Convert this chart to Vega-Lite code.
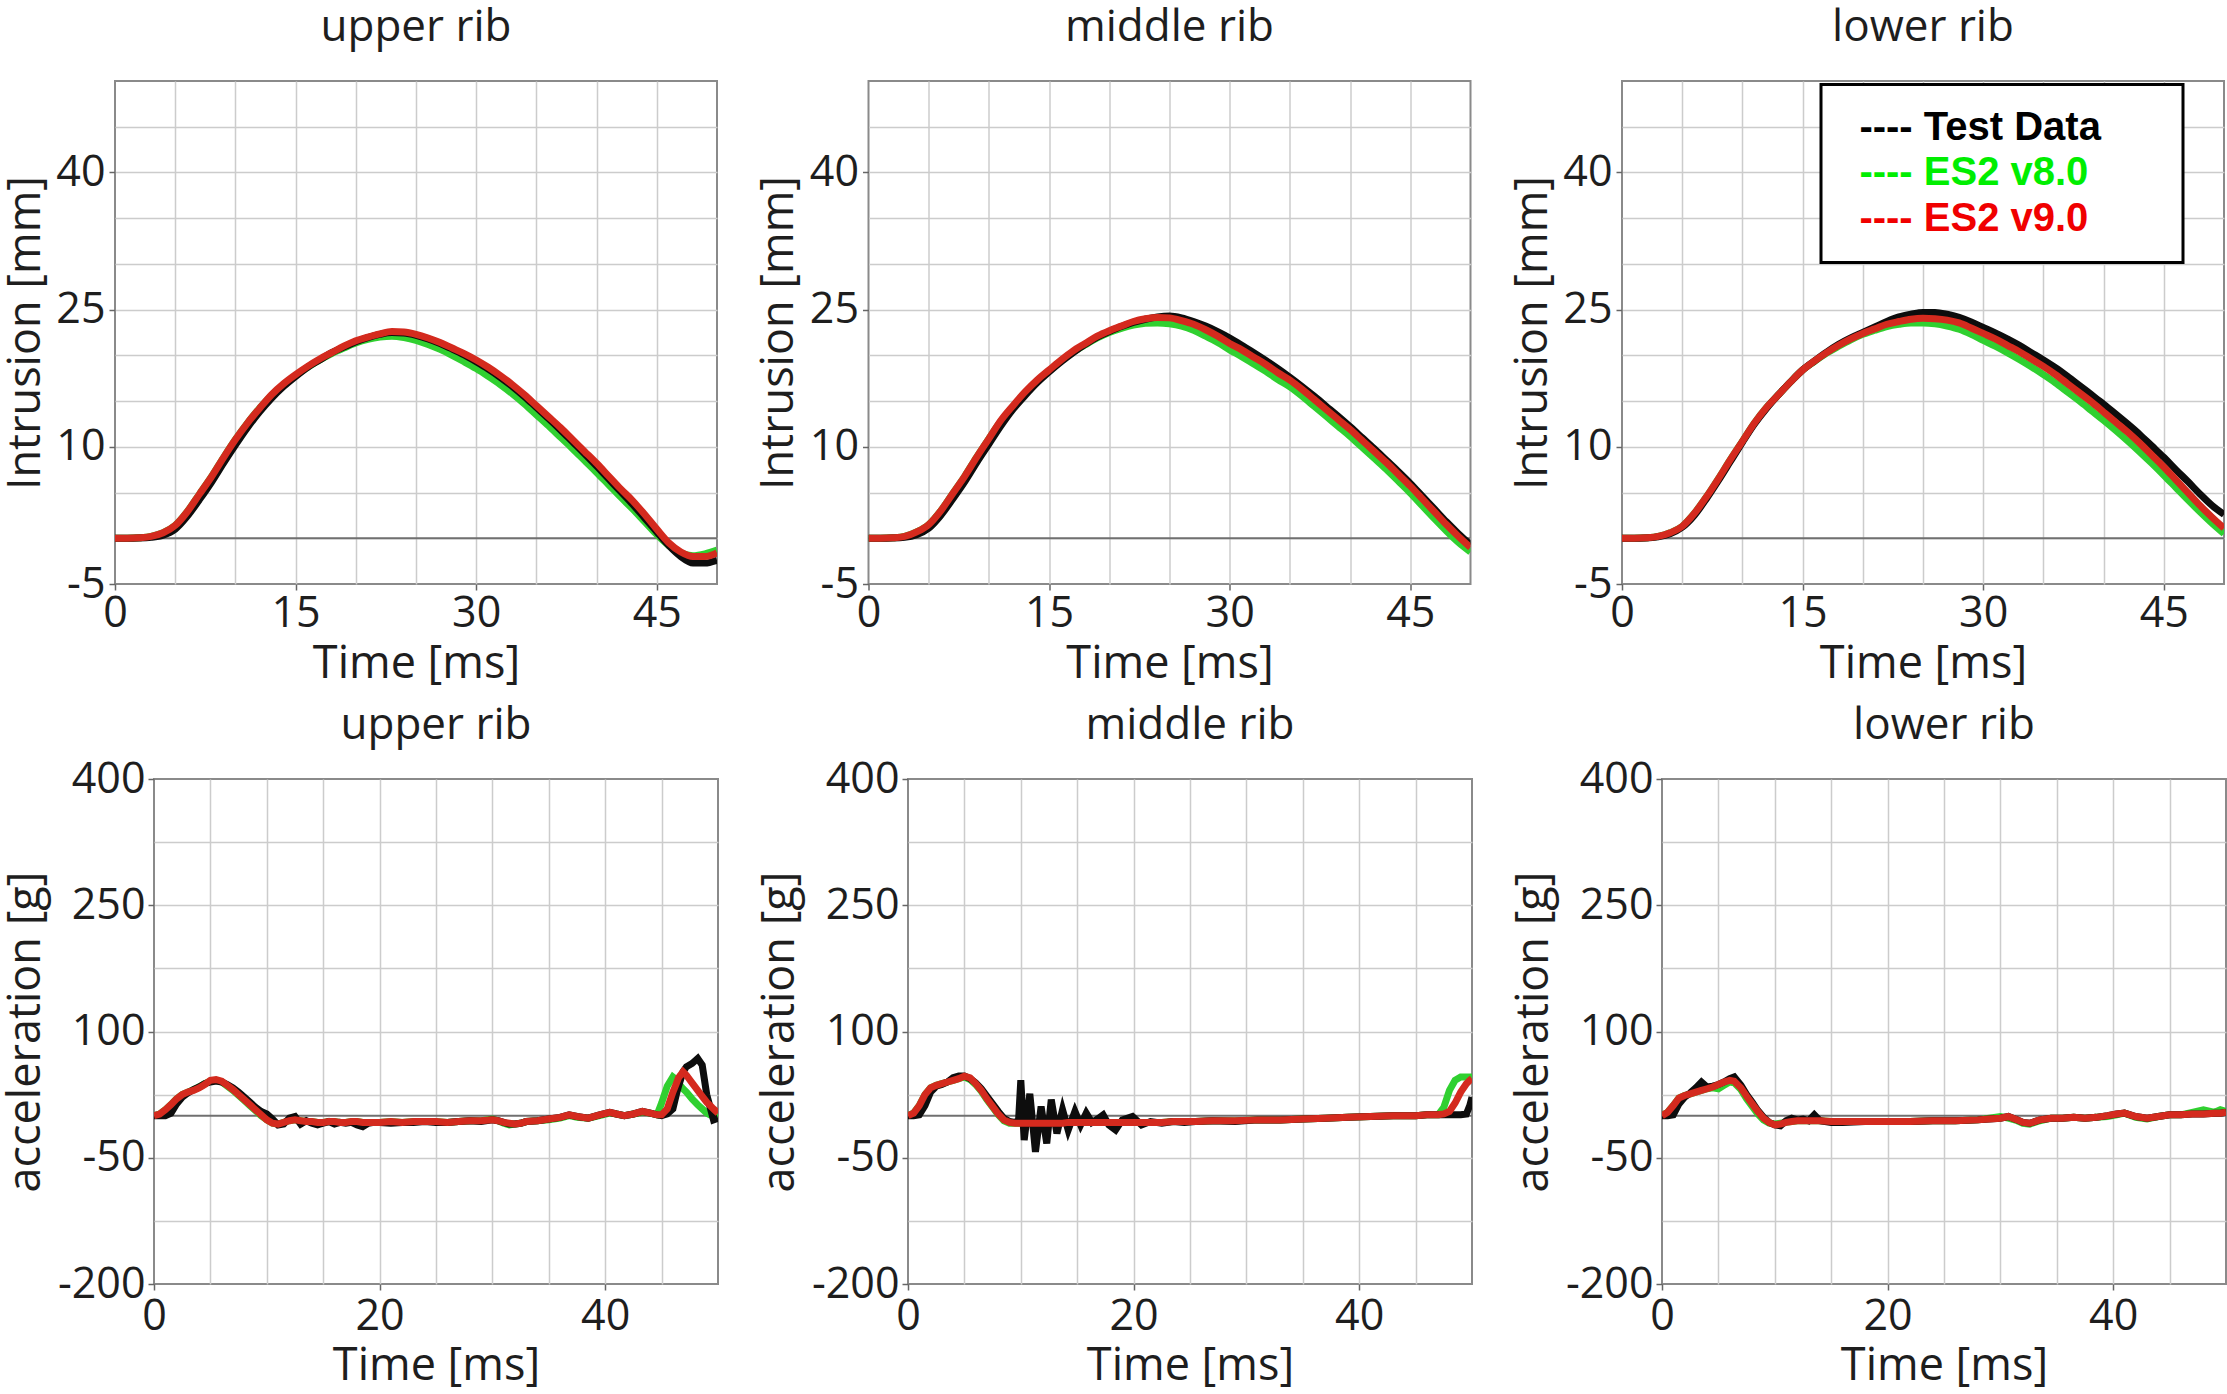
{
"$schema": "https://vega.github.io/schema/vega-lite/v6.json",
"padding": {"left": 0, "top": 4, "right": 0, "bottom": 0},
"background": "#ffffff",
"config": {
  "view": {"stroke": "#8a8a8a", "strokeWidth": 2},
  "font": "Open Sans",
  "axis": {"grid": true, "labelFont": "Open Sans", "labelFontSize": 43, "labelColor": "#1e1e1e", "titleFont": "Open Sans", "titleFontSize": 45, "titleFontWeight": "normal", "titleColor": "#1e1e1e", "domain": false, "tickColor": "#666666", "tickSize": 6, "tickWidth": 1.5, "labelFlush": false, "labelOverlap": false, "gridWidth": 1.5},
  "title": {"font": "Open Sans", "fontSize": 44, "fontWeight": "normal", "color": "#1e1e1e", "frame": "group", "anchor": "middle", "baseline": "alphabetic"}
},
"datasets": {
"iu": [
{"t":0,"T":0,"G":0,"R":0},{"t":1,"T":0,"G":0,"R":0},{"t":2,"T":0.02,"G":0.05,"R":0.05},{"t":3,"T":0.1,"G":0.2,"R":0.2},{"t":4,"T":0.35,"G":0.6,"R":0.6},{"t":5,"T":1.0,"G":1.4,"R":1.4},{"t":6,"T":2.4,"G":2.9,"R":2.9},{"t":7,"T":4.2,"G":4.8,"R":4.8},{"t":8,"T":6.1,"G":6.7,"R":6.7},{"t":9,"T":8.2,"G":8.8,"R":8.8},{"t":10,"T":10.2,"G":10.8,"R":10.8},{"t":11,"T":12.1,"G":12.6,"R":12.6},{"t":12,"T":13.8,"G":14.2,"R":14.2},{"t":13,"T":15.3,"G":15.6,"R":15.7},{"t":14,"T":16.6,"G":16.8,"R":16.9},{"t":15,"T":17.7,"G":17.8,"R":17.9},{"t":16,"T":18.7,"G":18.7,"R":18.8},{"t":17,"T":19.5,"G":19.5,"R":19.6},{"t":18,"T":20.3,"G":20.2,"R":20.3},{"t":19,"T":20.9,"G":20.8,"R":21.0},{"t":20,"T":21.5,"G":21.35,"R":21.6},{"t":21,"T":21.95,"G":21.75,"R":22.0},{"t":22,"T":22.3,"G":22.0,"R":22.35},{"t":23,"T":22.5,"G":22.1,"R":22.6},{"t":24,"T":22.45,"G":21.95,"R":22.55},{"t":25,"T":22.2,"G":21.65,"R":22.3},{"t":26,"T":21.8,"G":21.2,"R":21.9},{"t":27,"T":21.3,"G":20.65,"R":21.4},{"t":28,"T":20.7,"G":20.0,"R":20.8},{"t":29,"T":20.05,"G":19.3,"R":20.2},{"t":30,"T":19.3,"G":18.55,"R":19.5},{"t":31,"T":18.5,"G":17.7,"R":18.7},{"t":32,"T":17.6,"G":16.8,"R":17.8},{"t":33,"T":16.6,"G":15.8,"R":16.8},{"t":34,"T":15.5,"G":14.7,"R":15.7},{"t":35,"T":14.3,"G":13.5,"R":14.5},{"t":36,"T":13.1,"G":12.3,"R":13.3},{"t":37,"T":11.85,"G":11.05,"R":12.1},{"t":38,"T":10.55,"G":9.8,"R":10.8},{"t":39,"T":9.25,"G":8.5,"R":9.5},{"t":40,"T":7.9,"G":7.2,"R":8.2},{"t":41,"T":6.5,"G":5.85,"R":6.8},{"t":42,"T":5.1,"G":4.5,"R":5.4},{"t":43,"T":3.7,"G":3.2,"R":4.1},{"t":44,"T":2.2,"G":1.8,"R":2.6},{"t":45,"T":0.7,"G":0.4,"R":1.0},{"t":46,"T":-0.8,"G":-0.8,"R":-0.5},{"t":47,"T":-2.0,"G":-1.6,"R":-1.5},{"t":48,"T":-2.7,"G":-1.9,"R":-2.0},{"t":49,"T":-2.7,"G":-1.7,"R":-2.0},{"t":50,"T":-2.4,"G":-1.3,"R":-1.6}
],
"im": [
{"t":0,"T":0,"G":0,"R":0},{"t":1,"T":0,"G":0,"R":0},{"t":2,"T":0.02,"G":0.05,"R":0.05},{"t":3,"T":0.1,"G":0.2,"R":0.2},{"t":4,"T":0.4,"G":0.7,"R":0.7},{"t":5,"T":1.1,"G":1.5,"R":1.5},{"t":6,"T":2.5,"G":3.0,"R":3.0},{"t":7,"T":4.3,"G":4.9,"R":4.9},{"t":8,"T":6.2,"G":6.8,"R":6.8},{"t":9,"T":8.3,"G":8.9,"R":8.9},{"t":10,"T":10.3,"G":10.9,"R":10.9},{"t":11,"T":12.3,"G":12.8,"R":12.9},{"t":12,"T":14.1,"G":14.4,"R":14.5},{"t":13,"T":15.6,"G":15.9,"R":16.0},{"t":14,"T":17.0,"G":17.2,"R":17.3},{"t":15,"T":18.2,"G":18.3,"R":18.4},{"t":16,"T":19.3,"G":19.4,"R":19.5},{"t":17,"T":20.3,"G":20.35,"R":20.5},{"t":18,"T":21.2,"G":21.15,"R":21.3},{"t":19,"T":22.0,"G":21.9,"R":22.1},{"t":20,"T":22.6,"G":22.5,"R":22.7},{"t":21,"T":23.15,"G":22.95,"R":23.2},{"t":22,"T":23.6,"G":23.3,"R":23.7},{"t":23,"T":23.95,"G":23.5,"R":24.0},{"t":24,"T":24.2,"G":23.55,"R":24.15},{"t":25,"T":24.3,"G":23.45,"R":24.1},{"t":26,"T":24.1,"G":23.2,"R":23.8},{"t":27,"T":23.7,"G":22.75,"R":23.4},{"t":28,"T":23.2,"G":22.1,"R":22.8},{"t":29,"T":22.6,"G":21.4,"R":22.1},{"t":30,"T":21.9,"G":20.6,"R":21.3},{"t":31,"T":21.1,"G":19.85,"R":20.6},{"t":32,"T":20.3,"G":19.05,"R":19.8},{"t":33,"T":19.45,"G":18.25,"R":19.0},{"t":34,"T":18.55,"G":17.35,"R":18.1},{"t":35,"T":17.6,"G":16.55,"R":17.3},{"t":36,"T":16.6,"G":15.55,"R":16.3},{"t":37,"T":15.55,"G":14.45,"R":15.2},{"t":38,"T":14.45,"G":13.35,"R":14.1},{"t":39,"T":13.35,"G":12.25,"R":13.0},{"t":40,"T":12.2,"G":11.15,"R":11.9},{"t":41,"T":11.0,"G":9.95,"R":10.7},{"t":42,"T":9.8,"G":8.75,"R":9.5},{"t":43,"T":8.55,"G":7.55,"R":8.3},{"t":44,"T":7.3,"G":6.25,"R":7.0},{"t":45,"T":6.0,"G":4.95,"R":5.7},{"t":46,"T":4.6,"G":3.55,"R":4.3},{"t":47,"T":3.2,"G":2.15,"R":2.9},{"t":48,"T":1.8,"G":0.8,"R":1.5},{"t":49,"T":0.5,"G":-0.45,"R":0.2},{"t":50,"T":-0.7,"G":-1.5,"R":-1.0}
],
"il": [
{"t":0,"T":0,"G":0,"R":0},{"t":1,"T":0,"G":0,"R":0},{"t":2,"T":0.02,"G":0.05,"R":0.05},{"t":3,"T":0.15,"G":0.2,"R":0.2},{"t":4,"T":0.5,"G":0.6,"R":0.6},{"t":5,"T":1.2,"G":1.3,"R":1.3},{"t":6,"T":2.5,"G":2.7,"R":2.7},{"t":7,"T":4.3,"G":4.5,"R":4.5},{"t":8,"T":6.3,"G":6.5,"R":6.5},{"t":9,"T":8.4,"G":8.6,"R":8.6},{"t":10,"T":10.5,"G":10.6,"R":10.6},{"t":11,"T":12.5,"G":12.6,"R":12.6},{"t":12,"T":14.2,"G":14.3,"R":14.3},{"t":13,"T":15.7,"G":15.7,"R":15.7},{"t":14,"T":17.1,"G":17.1,"R":17.1},{"t":15,"T":18.4,"G":18.4,"R":18.4},{"t":16,"T":19.4,"G":19.35,"R":19.4},{"t":17,"T":20.35,"G":20.25,"R":20.3},{"t":18,"T":21.2,"G":21.0,"R":21.1},{"t":19,"T":21.9,"G":21.7,"R":21.8},{"t":20,"T":22.5,"G":22.3,"R":22.4},{"t":21,"T":23.1,"G":22.75,"R":22.9},{"t":22,"T":23.7,"G":23.15,"R":23.4},{"t":23,"T":24.2,"G":23.4,"R":23.7},{"t":24,"T":24.5,"G":23.55,"R":23.95},{"t":25,"T":24.7,"G":23.55,"R":24.05},{"t":26,"T":24.7,"G":23.45,"R":24.0},{"t":27,"T":24.5,"G":23.2,"R":23.85},{"t":28,"T":24.15,"G":22.85,"R":23.55},{"t":29,"T":23.65,"G":22.3,"R":23.0},{"t":30,"T":23.05,"G":21.65,"R":22.4},{"t":31,"T":22.45,"G":21.0,"R":21.8},{"t":32,"T":21.8,"G":20.3,"R":21.1},{"t":33,"T":21.1,"G":19.55,"R":20.4},{"t":34,"T":20.3,"G":18.75,"R":19.6},{"t":35,"T":19.5,"G":17.9,"R":18.8},{"t":36,"T":18.65,"G":17.0,"R":17.9},{"t":37,"T":17.7,"G":16.0,"R":16.9},{"t":38,"T":16.7,"G":15.0,"R":15.9},{"t":39,"T":15.7,"G":13.95,"R":14.9},{"t":40,"T":14.65,"G":12.9,"R":13.8},{"t":41,"T":13.6,"G":11.8,"R":12.7},{"t":42,"T":12.5,"G":10.65,"R":11.6},{"t":43,"T":11.35,"G":9.45,"R":10.4},{"t":44,"T":10.1,"G":8.2,"R":9.1},{"t":45,"T":8.85,"G":6.9,"R":7.8},{"t":46,"T":7.5,"G":5.55,"R":6.4},{"t":47,"T":6.2,"G":4.2,"R":5.0},{"t":48,"T":4.85,"G":2.9,"R":3.6},{"t":49,"T":3.6,"G":1.65,"R":2.3},{"t":50,"T":2.6,"G":0.5,"R":1.1}
],
"au": [
{"t":0,"T":0,"G":0,"R":0},{"t":0.5,"T":0,"G":2,"R":2},{"t":1,"T":0,"G":7,"R":7},{"t":1.5,"T":3,"G":13,"R":13},{"t":2,"T":14,"G":20,"R":20},{"t":2.5,"T":22,"G":25,"R":25},{"t":3,"T":27,"G":28,"R":28},{"t":3.5,"T":31,"G":31,"R":30},{"t":4,"T":34,"G":34,"R":33},{"t":4.5,"T":38,"G":38,"R":37},{"t":5,"T":40,"G":41,"R":42},{"t":5.5,"T":41,"G":42,"R":43},{"t":6,"T":40,"G":40,"R":41},{"t":6.5,"T":37,"G":35,"R":36},{"t":7,"T":33,"G":30,"R":31},{"t":7.5,"T":28,"G":24,"R":25},{"t":8,"T":22,"G":18,"R":19},{"t":8.5,"T":16,"G":12,"R":13},{"t":9,"T":10,"G":6,"R":7},{"t":9.5,"T":5,"G":0,"R":1},{"t":10,"T":2,"G":-5,"R":-5},{"t":10.5,"T":-4,"G":-9,"R":-9},{"t":11,"T":-11,"G":-10,"R":-10},{"t":11.5,"T":-10,"G":-8,"R":-8},{"t":12,"T":-3,"G":-6,"R":-6},{"t":12.5,"T":-1,"G":-5,"R":-5},{"t":13,"T":-10,"G":-6,"R":-6},{"t":13.5,"T":-6,"G":-7,"R":-7},{"t":14,"T":-9,"G":-7,"R":-7},{"t":14.5,"T":-11,"G":-8,"R":-8},{"t":15,"T":-9,"G":-8,"R":-8},{"t":15.5,"T":-7,"G":-7,"R":-7},{"t":16,"T":-10,"G":-7,"R":-7},{"t":16.5,"T":-8,"G":-8,"R":-8},{"t":17,"T":-9,"G":-8,"R":-8},{"t":17.5,"T":-8,"G":-7,"R":-7},{"t":18,"T":-11,"G":-7,"R":-7},{"t":18.5,"T":-13,"G":-8,"R":-8},{"t":19,"T":-9,"G":-8,"R":-8},{"t":19.5,"T":-8,"G":-8,"R":-8},{"t":20,"T":-8,"G":-8,"R":-8},{"t":21,"T":-9,"G":-7,"R":-7},{"t":22,"T":-8,"G":-8,"R":-8},{"t":23,"T":-8,"G":-7,"R":-7},{"t":24,"T":-7,"G":-7,"R":-7},{"t":25,"T":-8,"G":-7,"R":-7},{"t":26,"T":-8,"G":-8,"R":-8},{"t":27,"T":-7,"G":-7,"R":-7},{"t":28,"T":-6,"G":-6,"R":-6},{"t":29,"T":-7,"G":-6,"R":-6},{"t":30,"T":-5,"G":-4,"R":-5},{"t":30.5,"T":-6,"G":-6,"R":-6},{"t":31,"T":-8,"G":-9,"R":-8},{"t":31.5,"T":-10,"G":-11,"R":-9},{"t":32,"T":-10,"G":-10,"R":-10},{"t":32.5,"T":-9,"G":-9,"R":-9},{"t":33,"T":-7,"G":-7,"R":-7},{"t":34,"T":-6,"G":-6,"R":-6},{"t":35,"T":-4,"G":-5,"R":-4},{"t":36,"T":-2,"G":-3,"R":-2},{"t":36.8,"T":1,"G":0,"R":1},{"t":37.5,"T":-1,"G":-2,"R":-1},{"t":38.5,"T":-3,"G":-3,"R":-3},{"t":39.5,"T":1,"G":0,"R":1},{"t":40.4,"T":4,"G":3,"R":4},{"t":41,"T":2,"G":2,"R":2},{"t":41.7,"T":0,"G":0,"R":0},{"t":42.5,"T":2,"G":2,"R":2},{"t":43.3,"T":5,"G":4,"R":5},{"t":44,"T":3,"G":3,"R":3},{"t":44.6,"T":1,"G":1,"R":1},{"t":45,"T":0,"G":15,"R":1},{"t":45.5,"T":2,"G":35,"R":8},{"t":46,"T":8,"G":46,"R":28},{"t":46.3,"T":25,"G":43,"R":38},{"t":46.5,"T":35,"G":38,"R":45},{"t":46.9,"T":52,"G":32,"R":52},{"t":47.2,"T":58,"G":28,"R":48},{"t":47.7,"T":62,"G":20,"R":39},{"t":48.2,"T":68,"G":13,"R":30},{"t":48.6,"T":60,"G":8,"R":23},{"t":49,"T":25,"G":3,"R":16},{"t":49.3,"T":10,"G":1,"R":12},{"t":49.6,"T":-5,"G":0,"R":8},{"t":50,"T":-3,"G":-2,"R":3}
],
"am": [
{"t":0,"T":0,"G":0,"R":0},{"t":0.5,"T":0,"G":3,"R":3},{"t":1,"T":1,"G":12,"R":12},{"t":1.5,"T":12,"G":25,"R":25},{"t":2,"T":28,"G":33,"R":33},{"t":2.5,"T":35,"G":36,"R":36},{"t":3,"T":37,"G":38,"R":38},{"t":3.5,"T":40,"G":40,"R":40},{"t":4,"T":45,"G":42,"R":42},{"t":4.5,"T":47,"G":44,"R":44},{"t":5,"T":47,"G":46,"R":47},{"t":5.5,"T":44,"G":43,"R":45},{"t":6,"T":39,"G":37,"R":38},{"t":6.5,"T":32,"G":29,"R":30},{"t":7,"T":23,"G":19,"R":20},{"t":7.5,"T":14,"G":10,"R":11},{"t":8,"T":5,"G":1,"R":2},{"t":8.5,"T":-3,"G":-6,"R":-5},{"t":9,"T":-7,"G":-9,"R":-8},{"t":9.5,"T":-8,"G":-9,"R":-9},{"t":9.8,"T":-6,"G":-9,"R":-9},{"t":10,"T":42,"G":-9,"R":-9},{"t":10.3,"T":-29,"G":-9,"R":-9},{"t":10.8,"T":26,"G":-9,"R":-9},{"t":11.3,"T":-43,"G":-9,"R":-9},{"t":11.8,"T":11,"G":-9,"R":-9},{"t":12.3,"T":-33,"G":-9,"R":-9},{"t":12.7,"T":19,"G":-9,"R":-9},{"t":13.2,"T":-21,"G":-9,"R":-9},{"t":13.7,"T":7,"G":-8,"R":-9},{"t":14.2,"T":-17,"G":-8,"R":-8},{"t":14.8,"T":5,"G":-8,"R":-8},{"t":15.3,"T":-11,"G":-8,"R":-8},{"t":15.8,"T":3,"G":-8,"R":-8},{"t":16.3,"T":-8,"G":-8,"R":-8},{"t":16.8,"T":-4,"G":-8,"R":-8},{"t":17.3,"T":1,"G":-8,"R":-8},{"t":17.8,"T":-11,"G":-8,"R":-8},{"t":18.4,"T":-17,"G":-8,"R":-8},{"t":19,"T":-5,"G":-8,"R":-8},{"t":19.9,"T":-1,"G":-8,"R":-8},{"t":20.7,"T":-11,"G":-8,"R":-8},{"t":21.5,"T":-7,"G":-8,"R":-8},{"t":22.5,"T":-9,"G":-8,"R":-8},{"t":23.5,"T":-7,"G":-7,"R":-7},{"t":24.5,"T":-8,"G":-7,"R":-7},{"t":25.5,"T":-7,"G":-7,"R":-7},{"t":27,"T":-6,"G":-6,"R":-6},{"t":29,"T":-7,"G":-6,"R":-6},{"t":31,"T":-5,"G":-5,"R":-5},{"t":33,"T":-5,"G":-5,"R":-5},{"t":35,"T":-4,"G":-4,"R":-4},{"t":37,"T":-3,"G":-3,"R":-3},{"t":39,"T":-2,"G":-2,"R":-2},{"t":41,"T":-1,"G":-1,"R":-1},{"t":43,"T":0,"G":0,"R":0},{"t":45,"T":0,"G":0,"R":0},{"t":46,"T":1,"G":1,"R":1},{"t":47,"T":1,"G":1,"R":1},{"t":47.5,"T":1,"G":10,"R":2},{"t":48,"T":1,"G":30,"R":5},{"t":48.5,"T":1,"G":42,"R":15},{"t":49,"T":1,"G":46,"R":28},{"t":49.5,"T":2,"G":46,"R":38},{"t":49.8,"T":12,"G":46,"R":42},{"t":50,"T":22,"G":46,"R":44}
],
"al": [
{"t":0,"T":0,"G":0,"R":0},{"t":0.5,"T":0,"G":4,"R":4},{"t":1,"T":1,"G":12,"R":12},{"t":1.5,"T":14,"G":21,"R":21},{"t":2,"T":22,"G":24,"R":24},{"t":2.5,"T":27,"G":26,"R":26},{"t":3,"T":33,"G":28,"R":28},{"t":3.5,"T":40,"G":30,"R":30},{"t":4,"T":34,"G":32,"R":32},{"t":4.5,"T":35,"G":33,"R":34},{"t":5,"T":37,"G":32,"R":37},{"t":5.5,"T":40,"G":36,"R":40},{"t":6,"T":44,"G":40,"R":42},{"t":6.4,"T":46,"G":39,"R":41},{"t":7,"T":36,"G":31,"R":33},{"t":7.5,"T":25,"G":20,"R":23},{"t":8,"T":16,"G":11,"R":14},{"t":8.5,"T":6,"G":2,"R":5},{"t":9,"T":-2,"G":-5,"R":-3},{"t":9.5,"T":-8,"G":-9,"R":-8},{"t":10,"T":-11,"G":-10,"R":-11},{"t":10.5,"T":-12,"G":-9,"R":-10},{"t":11,"T":-6,"G":-8,"R":-8},{"t":11.5,"T":-3,"G":-7,"R":-7},{"t":12,"T":-5,"G":-6,"R":-6},{"t":12.5,"T":-4,"G":-6,"R":-6},{"t":13,"T":-6,"G":-6,"R":-6},{"t":13.5,"T":1,"G":-6,"R":-6},{"t":14,"T":-6,"G":-6,"R":-6},{"t":15,"T":-8,"G":-7,"R":-7},{"t":16,"T":-8,"G":-7,"R":-7},{"t":18,"T":-7,"G":-7,"R":-7},{"t":20,"T":-7,"G":-7,"R":-7},{"t":22,"T":-7,"G":-7,"R":-7},{"t":24,"T":-6,"G":-6,"R":-6},{"t":26,"T":-6,"G":-6,"R":-6},{"t":28,"T":-5,"G":-5,"R":-5},{"t":29,"T":-4,"G":-3,"R":-4},{"t":30,"T":-3,"G":-1,"R":-3},{"t":30.7,"T":-1,"G":-3,"R":-1},{"t":31.5,"T":-5,"G":-6,"R":-5},{"t":32,"T":-8,"G":-9,"R":-8},{"t":32.6,"T":-9,"G":-10,"R":-9},{"t":33.5,"T":-5,"G":-6,"R":-5},{"t":34.5,"T":-3,"G":-3,"R":-3},{"t":35.5,"T":-3,"G":-3,"R":-3},{"t":36.5,"T":-2,"G":-2,"R":-2},{"t":37.5,"T":-3,"G":-3,"R":-3},{"t":38.5,"T":-2,"G":-2,"R":-2},{"t":39.5,"T":0,"G":-1,"R":0},{"t":40.3,"T":2,"G":1,"R":2},{"t":41,"T":3,"G":3,"R":3},{"t":42,"T":-1,"G":-2,"R":-1},{"t":43,"T":-3,"G":-4,"R":-3},{"t":44,"T":-1,"G":-1,"R":-1},{"t":45,"T":1,"G":1,"R":1},{"t":46,"T":1,"G":1,"R":1},{"t":47,"T":2,"G":4,"R":2},{"t":48,"T":2,"G":7,"R":2},{"t":49,"T":3,"G":4,"R":3},{"t":49.5,"T":3,"G":7,"R":3},{"t":50,"T":4,"G":5,"R":4}
]
},
"spacing": 15,
"resolve": {"scale": {"color": "independent"}, "legend": {"color": "independent"}},
"vconcat": [
{
"spacing": 0,
"resolve": {"scale": {"color": "independent"}, "legend": {"color": "independent"}},
"hconcat": [
{"width": 1, "height": 1, "view": {"stroke": null}, "data": {"values": []}, "mark": {"type": "point", "opacity": 0}, "encoding": {}},
{
"spacing": 35.5,
"resolve": {"scale": {"color": "independent"}, "legend": {"color": "independent"}},
"hconcat": [
{
"width": 602, "height": 503,
"title": {"text": "upper rib", "offset": 10.4},
"data": {"name": "iu"},
"layer": [
{"data": {"values": [{}]}, "mark": {"type": "rule", "color": "#707070", "strokeWidth": 2}, "encoding": {"y": {"datum": 0, "type": "quantitative"}}},
{"mark": {"type": "line", "color": "#30d030", "strokeWidth": 7, "interpolate": "monotone", "clip": true},
 "encoding": {
  "x": {"field": "t", "type": "quantitative", "scale": {"domain": [0, 50], "nice": false, "zero": false},
   "axis": {"grid": true, "title": "Time [ms]", "values": [0,2.5,5,7.5,10,12.5,15,17.5,20,22.5,25,27.5,30,32.5,35,37.5,40,42.5,45,47.5,50], "labelExpr": "datum.value % 15 == 0 ? '' + datum.value : ''", "gridColor": {"condition": {"test": "datum.value % 5 == 0", "value": "#cccccc"}, "value": "#e6e6e6"}, "gridOpacity": {"condition": {"test": "datum.value == 0 || datum.value == 50", "value": 0}, "value": 1}, "tickOpacity": {"condition": {"test": "datum.value % 15 == 0", "value": 1}, "value": 0}, "labelPadding": 2.5, "titleY": 93.5, "titleBaseline": "alphabetic"}},
  "y": {"field": "G", "type": "quantitative", "scale": {"domain": [-5, 50], "nice": false, "zero": false},
   "axis": {"grid": true, "title": "Intrusion [mm]", "values": [-5,-2.5,0,2.5,5,7.5,10,12.5,15,17.5,20,22.5,25,27.5,30,32.5,35,37.5,40,42.5,45,47.5,50], "labelExpr": "(datum.value + 5) % 15 == 0 ? '' + datum.value : ''", "gridColor": {"condition": {"test": "datum.value % 5 == 0", "value": "#cccccc"}, "value": "#e6e6e6"}, "gridOpacity": {"condition": {"test": "datum.value == -5 || datum.value == 50", "value": 0}, "value": 1}, "tickOpacity": {"condition": {"test": "(datum.value + 5) % 15 == 0", "value": 1}, "value": 0}, "labelPadding": 4, "titleX": -90, "titleBaseline": "middle"}}
 }},
{"mark": {"type": "line", "color": "#0d0d0d", "strokeWidth": 7, "interpolate": "monotone", "clip": true},
 "encoding": {"x": {"field": "t", "type": "quantitative"}, "y": {"field": "T", "type": "quantitative"}}},
{"mark": {"type": "line", "color": "#d42a1e", "strokeWidth": 7, "interpolate": "monotone", "clip": true},
 "encoding": {"x": {"field": "t", "type": "quantitative"}, "y": {"field": "R", "type": "quantitative"}}}
]
},
{
"width": 602, "height": 503,
"title": {"text": "middle rib", "offset": 10.4},
"data": {"name": "im"},
"layer": [
{"data": {"values": [{}]}, "mark": {"type": "rule", "color": "#707070", "strokeWidth": 2}, "encoding": {"y": {"datum": 0, "type": "quantitative"}}},
{"mark": {"type": "line", "color": "#30d030", "strokeWidth": 7, "interpolate": "monotone", "clip": true},
 "encoding": {
  "x": {"field": "t", "type": "quantitative", "scale": {"domain": [0, 50], "nice": false, "zero": false},
   "axis": {"grid": true, "title": "Time [ms]", "values": [0,2.5,5,7.5,10,12.5,15,17.5,20,22.5,25,27.5,30,32.5,35,37.5,40,42.5,45,47.5,50], "labelExpr": "datum.value % 15 == 0 ? '' + datum.value : ''", "gridColor": {"condition": {"test": "datum.value % 5 == 0", "value": "#cccccc"}, "value": "#e6e6e6"}, "gridOpacity": {"condition": {"test": "datum.value == 0 || datum.value == 50", "value": 0}, "value": 1}, "tickOpacity": {"condition": {"test": "datum.value % 15 == 0", "value": 1}, "value": 0}, "labelPadding": 2.5, "titleY": 93.5, "titleBaseline": "alphabetic"}},
  "y": {"field": "G", "type": "quantitative", "scale": {"domain": [-5, 50], "nice": false, "zero": false},
   "axis": {"grid": true, "title": "Intrusion [mm]", "values": [-5,-2.5,0,2.5,5,7.5,10,12.5,15,17.5,20,22.5,25,27.5,30,32.5,35,37.5,40,42.5,45,47.5,50], "labelExpr": "(datum.value + 5) % 15 == 0 ? '' + datum.value : ''", "gridColor": {"condition": {"test": "datum.value % 5 == 0", "value": "#cccccc"}, "value": "#e6e6e6"}, "gridOpacity": {"condition": {"test": "datum.value == -5 || datum.value == 50", "value": 0}, "value": 1}, "tickOpacity": {"condition": {"test": "(datum.value + 5) % 15 == 0", "value": 1}, "value": 0}, "labelPadding": 4, "titleX": -90, "titleBaseline": "middle"}}
 }},
{"mark": {"type": "line", "color": "#0d0d0d", "strokeWidth": 7, "interpolate": "monotone", "clip": true},
 "encoding": {"x": {"field": "t", "type": "quantitative"}, "y": {"field": "T", "type": "quantitative"}}},
{"mark": {"type": "line", "color": "#d42a1e", "strokeWidth": 7, "interpolate": "monotone", "clip": true},
 "encoding": {"x": {"field": "t", "type": "quantitative"}, "y": {"field": "R", "type": "quantitative"}}}
]
},
{
"width": 602, "height": 503,
"title": {"text": "lower rib", "offset": 10.4},
"data": {"name": "il"},
"layer": [
{"data": {"values": [{}]}, "mark": {"type": "rule", "color": "#707070", "strokeWidth": 2}, "encoding": {"y": {"datum": 0, "type": "quantitative"}}},
{"mark": {"type": "line", "strokeWidth": 7, "interpolate": "monotone", "clip": true},
 "encoding": {
  "x": {"field": "t", "type": "quantitative", "scale": {"domain": [0, 50], "nice": false, "zero": false},
   "axis": {"grid": true, "title": "Time [ms]", "values": [0,2.5,5,7.5,10,12.5,15,17.5,20,22.5,25,27.5,30,32.5,35,37.5,40,42.5,45,47.5,50], "labelExpr": "datum.value % 15 == 0 ? '' + datum.value : ''", "gridColor": {"condition": {"test": "datum.value % 5 == 0", "value": "#cccccc"}, "value": "#e6e6e6"}, "gridOpacity": {"condition": {"test": "datum.value == 0 || datum.value == 50", "value": 0}, "value": 1}, "tickOpacity": {"condition": {"test": "datum.value % 15 == 0", "value": 1}, "value": 0}, "labelPadding": 2.5, "titleY": 93.5, "titleBaseline": "alphabetic"}},
  "y": {"field": "G", "type": "quantitative", "scale": {"domain": [-5, 50], "nice": false, "zero": false},
   "axis": {"grid": true, "title": "Intrusion [mm]", "values": [-5,-2.5,0,2.5,5,7.5,10,12.5,15,17.5,20,22.5,25,27.5,30,32.5,35,37.5,40,42.5,45,47.5,50], "labelExpr": "(datum.value + 5) % 15 == 0 ? '' + datum.value : ''", "gridColor": {"condition": {"test": "datum.value % 5 == 0", "value": "#cccccc"}, "value": "#e6e6e6"}, "gridOpacity": {"condition": {"test": "datum.value == -5 || datum.value == 50", "value": 0}, "value": 1}, "tickOpacity": {"condition": {"test": "(datum.value + 5) % 15 == 0", "value": 1}, "value": 0}, "labelPadding": 4, "titleX": -90, "titleBaseline": "middle"}},
  "color": {"datum": "ES2 v8.0", "type": "nominal", "scale": {"domain": ["Test Data", "ES2 v8.0", "ES2 v9.0"], "range": ["#0d0d0d", "#30d030", "#d42a1e"]},
   "legend": {"orient": "none", "legendX": 199, "legendY": 3.5, "title": "----", "titleOrient": "right", "titleColor": "#ffffff", "titleFont": "Liberation Sans", "titleFontWeight": "bold", "titleFontSize": 38, "titlePadding": 7.7, "labelExpr": "'---- ' + datum.label", "labelFont": "Liberation Sans", "labelFontSize": 40, "labelFontWeight": "bold", "labelLimit": 600, "labelOffset": -25.1, "symbolType": "circle", "symbolSize": 0, "symbolStrokeWidth": 0, "symbolOpacity": 0, "padding": 23.5, "rowPadding": 5.3, "strokeColor": "#000000", "fillColor": "#ffffff",
    "encode": {"labels": {"update": {"fill": {"signal": "datum.value === 'Test Data' ? '#000000' : datum.value === 'ES2 v8.0' ? '#00ee00' : '#f00000'"}}}, "legend": {"update": {"strokeWidth": {"value": 3}}}}}}
 }},
{"mark": {"type": "line", "strokeWidth": 7, "interpolate": "monotone", "clip": true},
 "encoding": {"x": {"field": "t", "type": "quantitative"}, "y": {"field": "T", "type": "quantitative"}, "color": {"datum": "Test Data", "type": "nominal", "scale": {"domain": ["Test Data", "ES2 v8.0", "ES2 v9.0"], "range": ["#0d0d0d", "#30d030", "#d42a1e"]}}}},
{"mark": {"type": "line", "strokeWidth": 7, "interpolate": "monotone", "clip": true},
 "encoding": {"x": {"field": "t", "type": "quantitative"}, "y": {"field": "R", "type": "quantitative"}, "color": {"datum": "ES2 v9.0", "type": "nominal", "scale": {"domain": ["Test Data", "ES2 v8.0", "ES2 v9.0"], "range": ["#0d0d0d", "#30d030", "#d42a1e"]}}}}
]
}
]
}
]
},
{
"spacing": 0,
"resolve": {"scale": {"color": "independent"}, "legend": {"color": "independent"}},
"hconcat": [
{"width": 1, "height": 1, "view": {"stroke": null}, "data": {"values": []}, "mark": {"type": "point", "opacity": 0}, "encoding": {}},
{
"spacing": 35,
"resolve": {"scale": {"color": "independent"}, "legend": {"color": "independent"}},
"hconcat": [
{
"width": 564, "height": 505,
"title": {"text": "upper rib", "offset": 10},
"data": {"name": "au"},
"layer": [
{"data": {"values": [{}]}, "mark": {"type": "rule", "color": "#707070", "strokeWidth": 2}, "encoding": {"y": {"datum": 0, "type": "quantitative"}}},
{"mark": {"type": "line", "color": "#30d030", "strokeWidth": 7, "clip": true},
 "encoding": {
  "x": {"field": "t", "type": "quantitative", "scale": {"domain": [0, 50], "nice": false, "zero": false},
   "axis": {"grid": true, "title": "Time [ms]", "values": [0,2.5,5,7.5,10,12.5,15,17.5,20,22.5,25,27.5,30,32.5,35,37.5,40,42.5,45,47.5,50], "labelExpr": "datum.value % 20 == 0 ? '' + datum.value : ''", "gridColor": {"condition": {"test": "datum.value % 5 == 0", "value": "#cccccc"}, "value": "#e6e6e6"}, "gridOpacity": {"condition": {"test": "datum.value == 0 || datum.value == 50", "value": 0}, "value": 1}, "tickOpacity": {"condition": {"test": "datum.value % 20 == 0", "value": 1}, "value": 0}, "labelPadding": 5, "titleY": 95, "titleBaseline": "alphabetic"}},
  "y": {"field": "G", "type": "quantitative", "scale": {"domain": [-200, 400], "nice": false, "zero": false},
   "axis": {"grid": true, "title": "acceleration [g]", "values": [-200,-162.5,-125,-87.5,-50,-12.5,25,62.5,100,137.5,175,212.5,250,287.5,325,362.5,400], "labelExpr": "(datum.value + 200) % 150 == 0 ? '' + datum.value : ''", "gridColor": {"condition": {"test": "(datum.value + 200) % 75 == 0", "value": "#cccccc"}, "value": "#e6e6e6"}, "gridOpacity": {"condition": {"test": "datum.value == -200 || datum.value == 400", "value": 0}, "value": 1}, "tickOpacity": {"condition": {"test": "(datum.value + 200) % 150 == 0", "value": 1}, "value": 0}, "labelPadding": 3, "titleX": -129, "titleBaseline": "middle"}}
 }},
{"mark": {"type": "line", "color": "#0d0d0d", "strokeWidth": 7, "clip": true},
 "encoding": {"x": {"field": "t", "type": "quantitative"}, "y": {"field": "T", "type": "quantitative"}}},
{"mark": {"type": "line", "color": "#d42a1e", "strokeWidth": 7, "clip": true},
 "encoding": {"x": {"field": "t", "type": "quantitative"}, "y": {"field": "R", "type": "quantitative"}}}
]
},
{
"width": 564, "height": 505,
"title": {"text": "middle rib", "offset": 10},
"data": {"name": "am"},
"layer": [
{"data": {"values": [{}]}, "mark": {"type": "rule", "color": "#707070", "strokeWidth": 2}, "encoding": {"y": {"datum": 0, "type": "quantitative"}}},
{"mark": {"type": "line", "color": "#30d030", "strokeWidth": 7, "clip": true},
 "encoding": {
  "x": {"field": "t", "type": "quantitative", "scale": {"domain": [0, 50], "nice": false, "zero": false},
   "axis": {"grid": true, "title": "Time [ms]", "values": [0,2.5,5,7.5,10,12.5,15,17.5,20,22.5,25,27.5,30,32.5,35,37.5,40,42.5,45,47.5,50], "labelExpr": "datum.value % 20 == 0 ? '' + datum.value : ''", "gridColor": {"condition": {"test": "datum.value % 5 == 0", "value": "#cccccc"}, "value": "#e6e6e6"}, "gridOpacity": {"condition": {"test": "datum.value == 0 || datum.value == 50", "value": 0}, "value": 1}, "tickOpacity": {"condition": {"test": "datum.value % 20 == 0", "value": 1}, "value": 0}, "labelPadding": 5, "titleY": 95, "titleBaseline": "alphabetic"}},
  "y": {"field": "G", "type": "quantitative", "scale": {"domain": [-200, 400], "nice": false, "zero": false},
   "axis": {"grid": true, "title": "acceleration [g]", "values": [-200,-162.5,-125,-87.5,-50,-12.5,25,62.5,100,137.5,175,212.5,250,287.5,325,362.5,400], "labelExpr": "(datum.value + 200) % 150 == 0 ? '' + datum.value : ''", "gridColor": {"condition": {"test": "(datum.value + 200) % 75 == 0", "value": "#cccccc"}, "value": "#e6e6e6"}, "gridOpacity": {"condition": {"test": "datum.value == -200 || datum.value == 400", "value": 0}, "value": 1}, "tickOpacity": {"condition": {"test": "(datum.value + 200) % 150 == 0", "value": 1}, "value": 0}, "labelPadding": 3, "titleX": -129, "titleBaseline": "middle"}}
 }},
{"mark": {"type": "line", "color": "#0d0d0d", "strokeWidth": 7, "clip": true},
 "encoding": {"x": {"field": "t", "type": "quantitative"}, "y": {"field": "T", "type": "quantitative"}}},
{"mark": {"type": "line", "color": "#d42a1e", "strokeWidth": 7, "clip": true},
 "encoding": {"x": {"field": "t", "type": "quantitative"}, "y": {"field": "R", "type": "quantitative"}}}
]
},
{
"width": 564, "height": 505,
"title": {"text": "lower rib", "offset": 10},
"data": {"name": "al"},
"layer": [
{"data": {"values": [{}]}, "mark": {"type": "rule", "color": "#707070", "strokeWidth": 2}, "encoding": {"y": {"datum": 0, "type": "quantitative"}}},
{"mark": {"type": "line", "color": "#30d030", "strokeWidth": 7, "clip": true},
 "encoding": {
  "x": {"field": "t", "type": "quantitative", "scale": {"domain": [0, 50], "nice": false, "zero": false},
   "axis": {"grid": true, "title": "Time [ms]", "values": [0,2.5,5,7.5,10,12.5,15,17.5,20,22.5,25,27.5,30,32.5,35,37.5,40,42.5,45,47.5,50], "labelExpr": "datum.value % 20 == 0 ? '' + datum.value : ''", "gridColor": {"condition": {"test": "datum.value % 5 == 0", "value": "#cccccc"}, "value": "#e6e6e6"}, "gridOpacity": {"condition": {"test": "datum.value == 0 || datum.value == 50", "value": 0}, "value": 1}, "tickOpacity": {"condition": {"test": "datum.value % 20 == 0", "value": 1}, "value": 0}, "labelPadding": 5, "titleY": 95, "titleBaseline": "alphabetic"}},
  "y": {"field": "G", "type": "quantitative", "scale": {"domain": [-200, 400], "nice": false, "zero": false},
   "axis": {"grid": true, "title": "acceleration [g]", "values": [-200,-162.5,-125,-87.5,-50,-12.5,25,62.5,100,137.5,175,212.5,250,287.5,325,362.5,400], "labelExpr": "(datum.value + 200) % 150 == 0 ? '' + datum.value : ''", "gridColor": {"condition": {"test": "(datum.value + 200) % 75 == 0", "value": "#cccccc"}, "value": "#e6e6e6"}, "gridOpacity": {"condition": {"test": "datum.value == -200 || datum.value == 400", "value": 0}, "value": 1}, "tickOpacity": {"condition": {"test": "(datum.value + 200) % 150 == 0", "value": 1}, "value": 0}, "labelPadding": 3, "titleX": -129, "titleBaseline": "middle"}}
 }},
{"mark": {"type": "line", "color": "#0d0d0d", "strokeWidth": 7, "clip": true},
 "encoding": {"x": {"field": "t", "type": "quantitative"}, "y": {"field": "T", "type": "quantitative"}}},
{"mark": {"type": "line", "color": "#d42a1e", "strokeWidth": 7, "clip": true},
 "encoding": {"x": {"field": "t", "type": "quantitative"}, "y": {"field": "R", "type": "quantitative"}}}
]
}
]
}
]
}
]
}
